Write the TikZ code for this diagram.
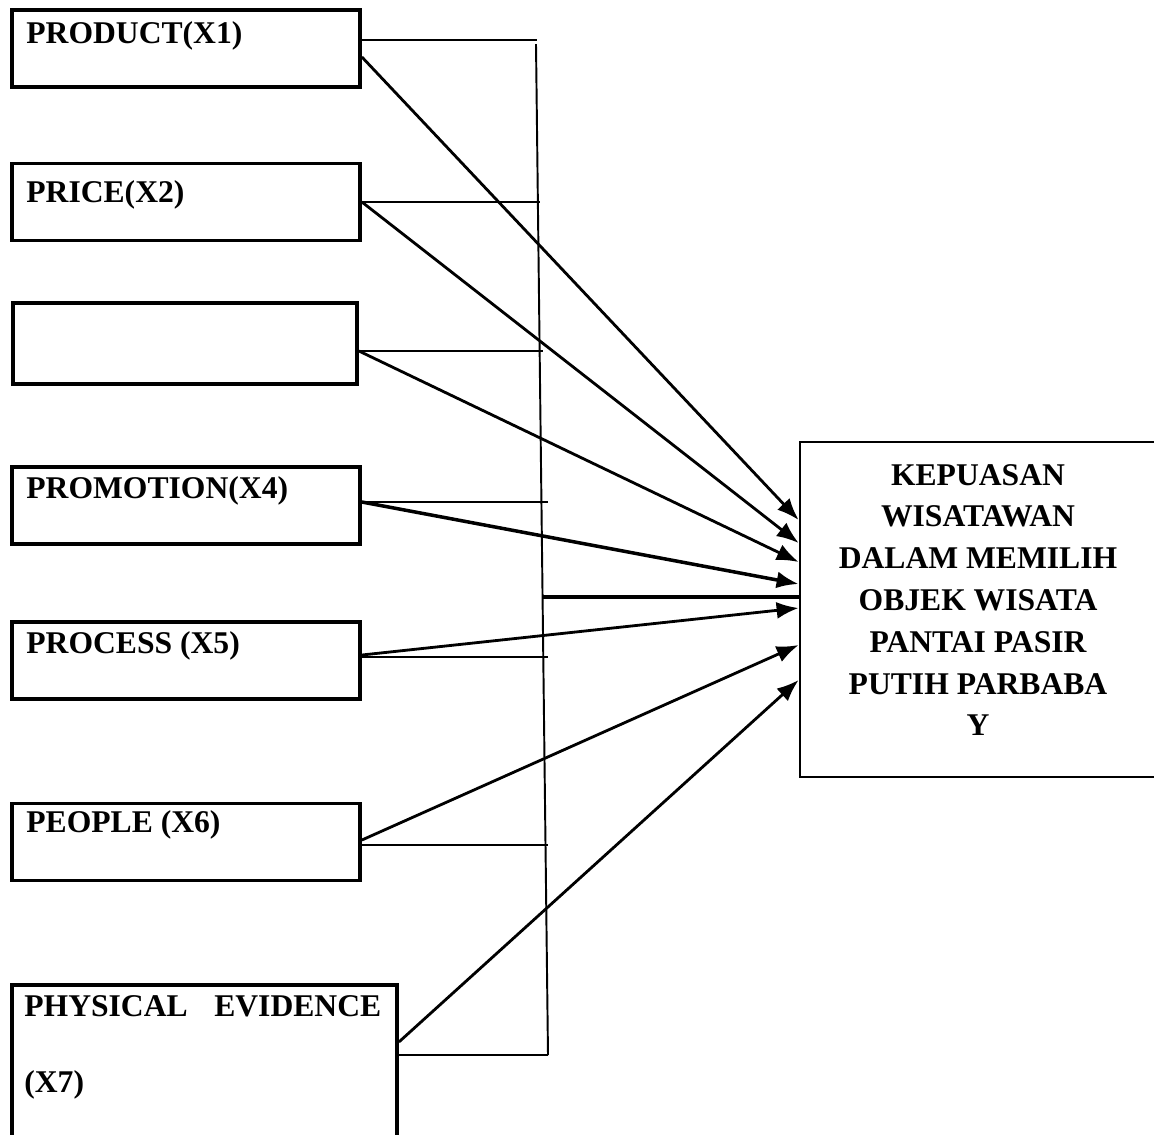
\documentclass[tikz,border=0pt]{standalone}
\usepackage{fontspec}
\setmainfont{Liberation Serif}
\usetikzlibrary{arrows.meta,positioning}

\begin{document}
\begin{tikzpicture}[x=0.02cm, y=-0.02cm,
    varbox/.style={draw, line width=2.2pt, rectangle, inner sep=0pt, minimum width=6.96cm, minimum height=1.54cm},
    lbl/.style={anchor=base west, inner sep=0pt, font=\fontsize{18}{22}\selectfont\bfseries},
    stub/.style={line width=1.1pt},
    arr/.style={line width=1.6pt, -{Latex[length=4.4mm, width=3.4mm]}}]
  \useasboundingbox[fill=white] (0,0) rectangle (1154,1134);
  \clip (0,0) rectangle (1154,1134);
  %variables
  \node[varbox] (x1) at (186,48.5) {};
  \node[varbox] (x2) at (186,202) {};
  \node[varbox, minimum width=6.88cm, minimum height=1.62cm] (x3) at (185,343.5) {};
  \node[varbox] (x4) at (186,505.5) {};
  \node[varbox] (x5) at (186,660.5) {};
  \node[varbox] (x6) at (186,842) {};
  \node[varbox, minimum width=7.7cm, minimum height=3.1cm] (x7) at (204.5,1062.5) {};
  \node[lbl] (t1) at (26,43) {PRODUCT(X1)};
  \node[lbl] (t2) at (26,202) {PRICE(X2)};
  \node[lbl] (t4) at (26,498) {PROMOTION(X4)};
  \node[lbl] (t5) at (26,653) {PROCESS (X5)};
  \node[lbl] (t6) at (26,832) {PEOPLE (X6)};
  \node[lbl] (t7) at (24,1016) {\makebox[7.14cm][s]{PHYSICAL EVIDENCE}};
  \node[lbl] (t7b) at (24,1092) {(X7)};
  %dependent
  \node[draw, line width=1.6pt, inner sep=0pt, minimum width=7.2cm, minimum height=6.7cm] (y) at (980,609.5) {};
  \node[align=center, font=\fontsize{18}{23.8}\selectfont\bfseries] (ty) at (978,600)
    {KEPUASAN\\WISATAWAN\\DALAM MEMILIH\\OBJEK WISATA\\PANTAI PASIR\\PUTIH PARBABA\\Y};
  %trunk
  \coordinate (vtop) at (536,44);
  \coordinate (vbot) at (548,1055);
  \draw[stub] (vtop) -- (vbot);
  \coordinate (j1) at (537,40);
  \coordinate (j2) at (540,202);
  \coordinate (j3) at (543,351);
  \coordinate (j4) at (548,502);
  \coordinate (j5) at (548,657);
  \coordinate (j6) at (548,845);
  \coordinate (j7) at (vbot);
  \draw[stub] (x1.east |- j1) -- (j1);
  \draw[stub] (x2.east |- j2) -- (j2);
  \draw[stub] (x3.east |- j3) -- (j3);
  \draw[stub] (x4.east |- j4) -- (j4);
  \draw[stub] (x5.east |- j5) -- (j5);
  \draw[stub] (x6.east |- j6) -- (j6);
  \draw[stub] (x7.east |- j7) -- (j7);
  \coordinate (jm) at (543,597);
  \draw[line width=2.3pt] (jm) -- (y.west |- jm);
  %arrows
  \draw[arr] (x1.east |- 0,57) -- (y.west |- 0,520);
  \draw[arr] (x2.east |- 0,202) -- (y.west |- 0,543);
  \draw[arr] (x3.east |- 0,351) -- (y.west |- 0,562);
  \draw[arr, line width=2pt] (x4.east |- 0,502) -- (y.west |- 0,584);
  \draw[arr] (x5.east |- 0,655) -- (y.west |- 0,608);
  \draw[arr] (x6.east |- 0,840) -- (y.west |- 0,645);
  \draw[arr] (x7.east |- 0,1042) -- (y.west |- 0,680);
\end{tikzpicture}
\end{document}
